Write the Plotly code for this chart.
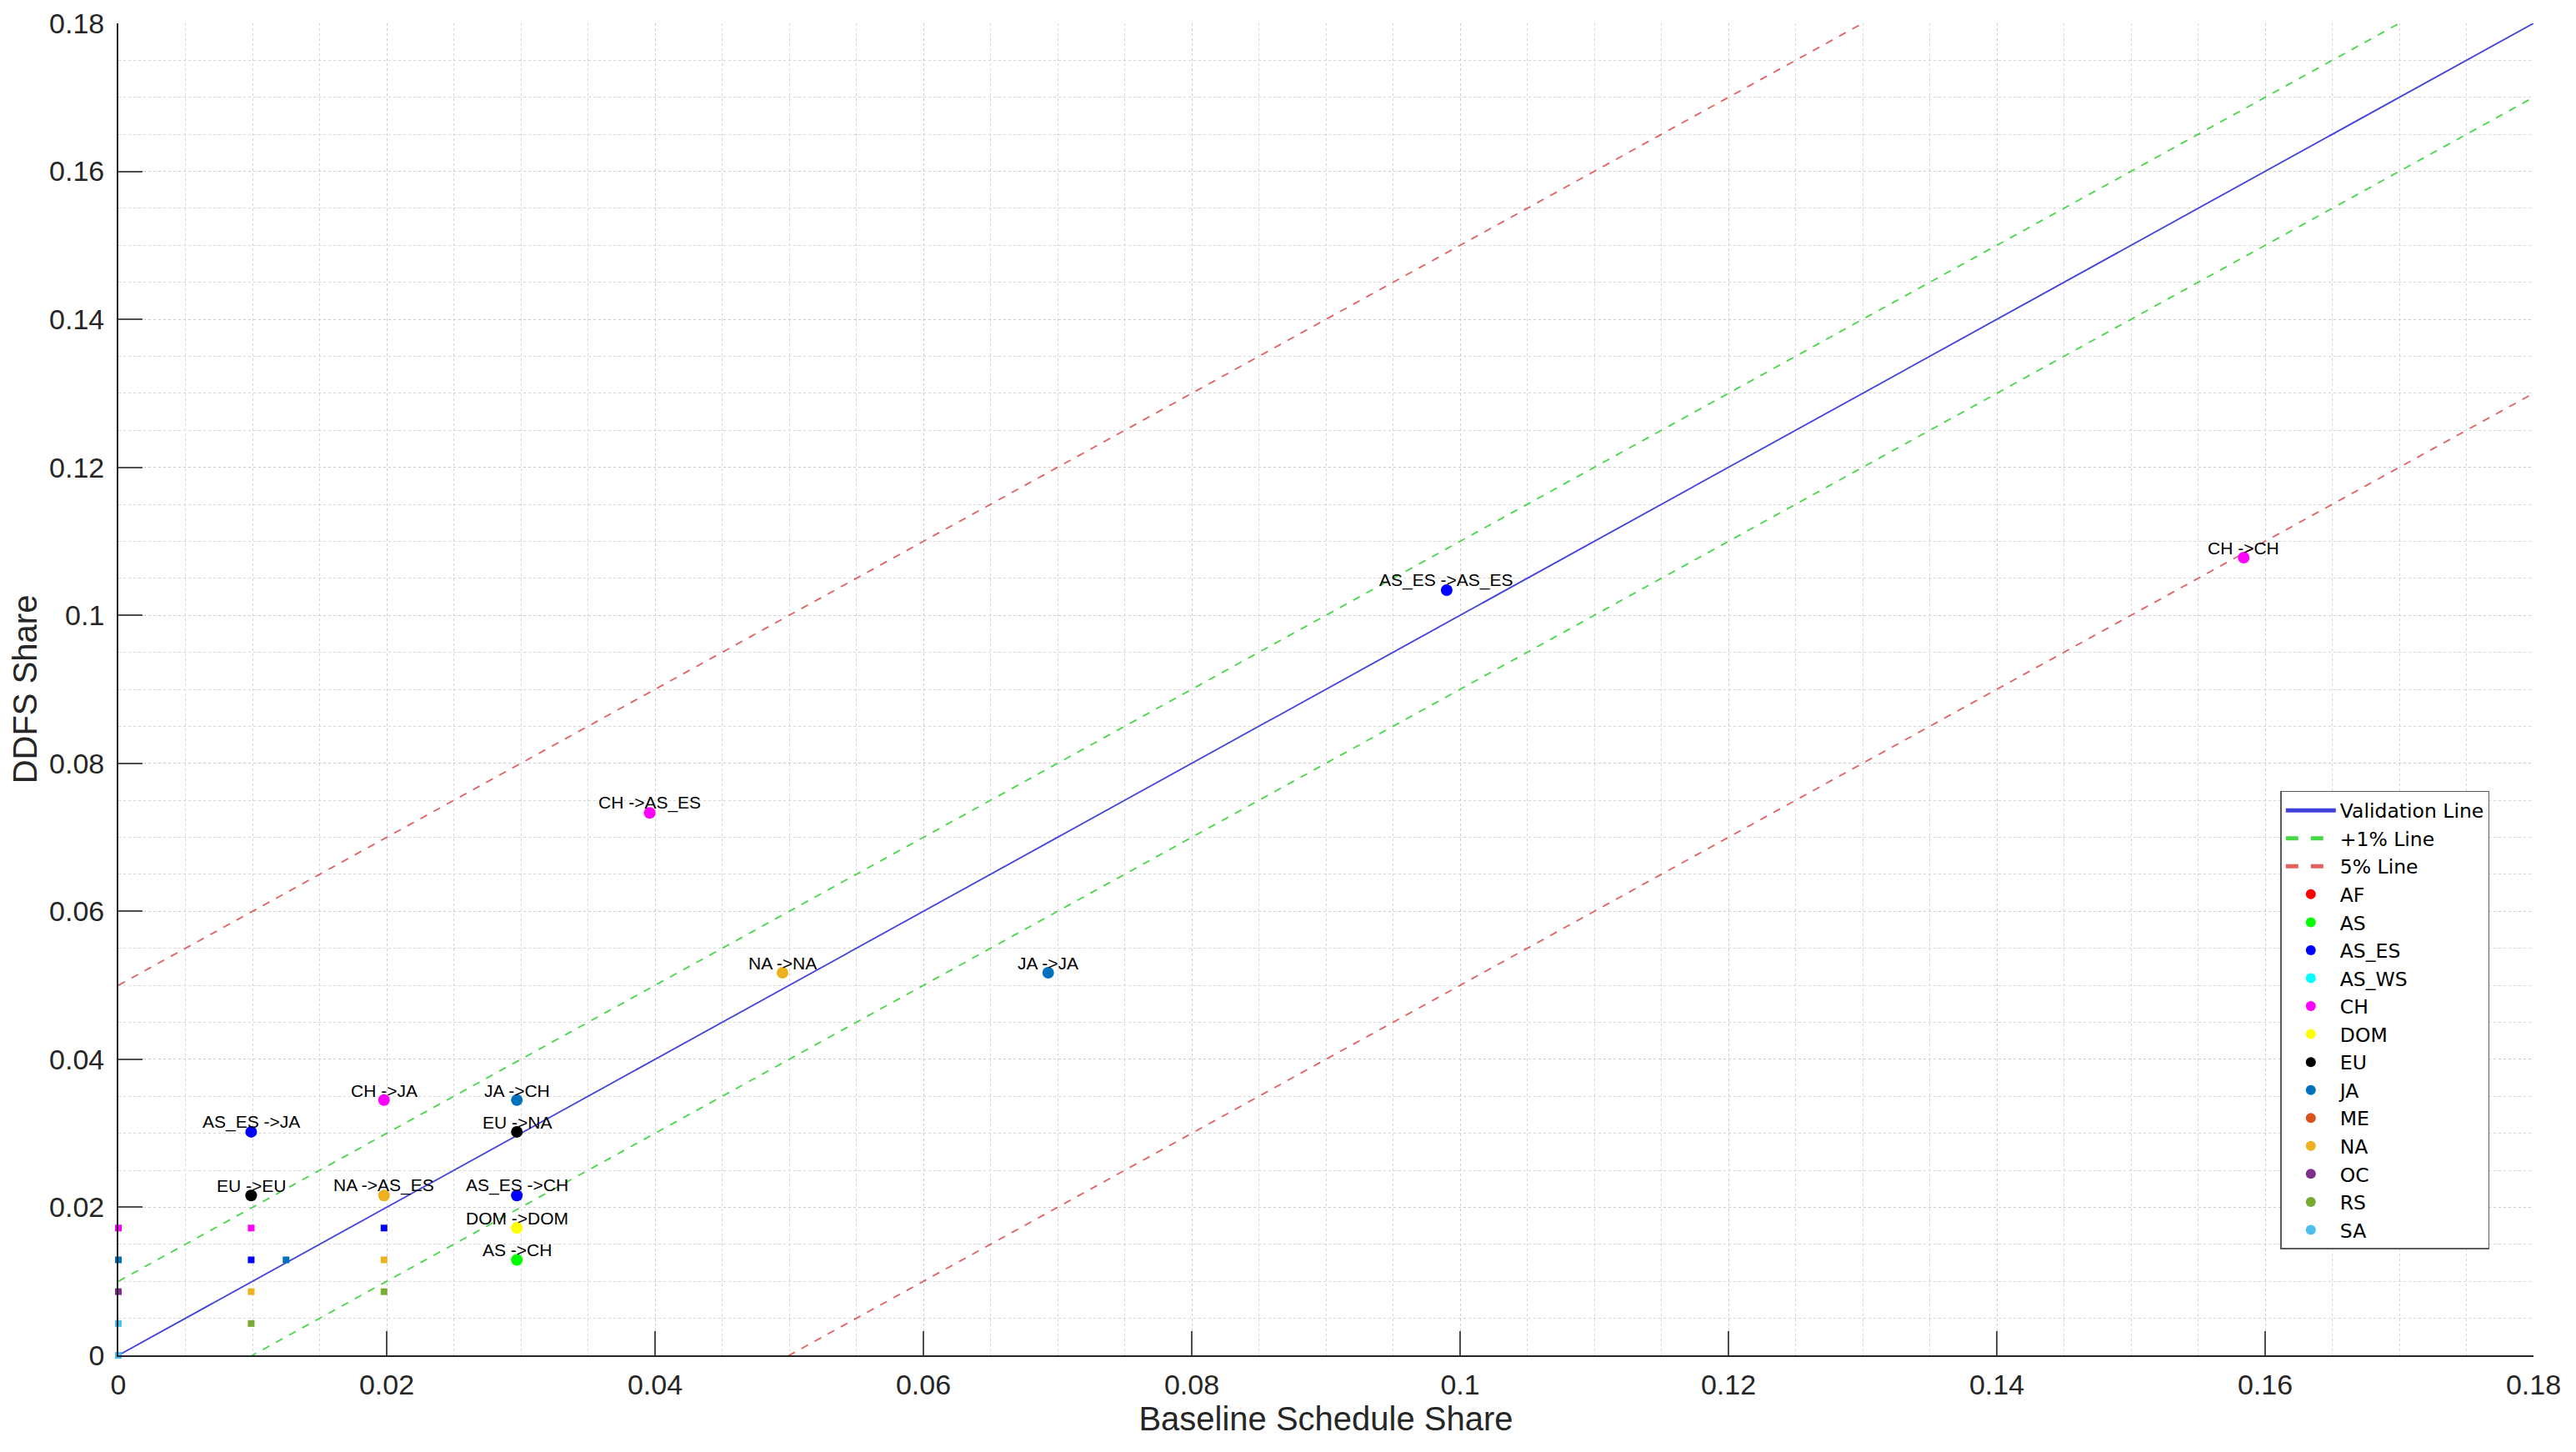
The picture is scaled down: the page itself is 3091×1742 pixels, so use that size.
import plotly.graph_objs as go

# regions and their marker colours (legend order)
regions = ['AF', 'AS', 'AS_ES', 'AS_WS', 'CH', 'DOM', 'EU', 'JA', 'ME', 'NA', 'OC', 'RS', 'SA']
region_colors = ['#FF0000', '#00FF00', '#0000FF', '#00FFFF', '#FF00FF', '#FFFF00', '#000000',
                 '#0072BD', '#D95319', '#EDB120', '#7E2F8E', '#77AC30', '#4DBEEE']

# labelled origin -> destination pairs
pair_origin = ['CH', 'AS_ES', 'CH', 'NA', 'JA', 'CH', 'JA', 'AS_ES', 'EU', 'EU', 'NA', 'AS_ES', 'DOM', 'AS']
pair_dest = ['CH', 'AS_ES', 'AS_ES', 'NA', 'JA', 'JA', 'CH', 'JA', 'NA', 'EU', 'AS_ES', 'CH', 'DOM', 'CH']
pair_base = [0.1584, 0.0990, 0.0396, 0.0495, 0.0693, 0.0198, 0.0297, 0.0099, 0.0297, 0.0099, 0.0198, 0.0297, 0.0297, 0.0297]
pair_ddfs = [0.1078, 0.1034, 0.0733, 0.0517, 0.0517, 0.0345, 0.0345, 0.0302, 0.0302, 0.0216, 0.0216, 0.0216, 0.0172, 0.0129]

# small unlabelled pairs
small_region = ['CH', 'JA', 'OC', 'SA', 'SA', 'CH', 'AS_ES', 'NA', 'RS', 'JA', 'AS_ES', 'NA', 'RS']
small_base = [0, 0, 0, 0, 0, 0.0099, 0.0099, 0.0099, 0.0099, 0.0125, 0.0198, 0.0198, 0.0198]
small_ddfs = [0.0172, 0.0129, 0.0086, 0.0043, 0, 0.0172, 0.0129, 0.0086, 0.0043, 0.0129, 0.0172, 0.0129, 0.0086]

# reference lines y = x + offset
line_x = [0, 0.18]
line_names = ['Validation Line', '+1% Line', '+1% Line', '5% Line', '5% Line']
line_offsets = [0, 0.01, -0.01, 0.05, -0.05]

tick_vals = [0, 0.02, 0.04, 0.06, 0.08, 0.1, 0.12, 0.14, 0.16, 0.18]

font_family = 'Liberation Sans, Arial, sans-serif'
legend_family = 'DejaVu Sans, Liberation Sans, sans-serif'
line_styles = {'Validation Line': dict(color='rgb(65,65,222)', width=1.8, dash='solid'),
               '+1% Line': dict(color='rgb(70,215,70)', width=1.8, dash='dash'),
               '5% Line': dict(color='rgb(228,95,95)', width=1.8, dash='dash')}

fig = go.Figure()

seen = set()
for name, off in zip(line_names, line_offsets):
    fig.add_scatter(x=line_x, y=[v + off for v in line_x], mode='lines', name=name,
                    line=line_styles[name], legendgroup=name,
                    showlegend=name not in seen, hoverinfo='skip')
    seen.add(name)

for reg, col in zip(regions, region_colors):
    sx = [x for x, r in zip(small_base, small_region) if r == reg]
    sy = [y for y, r in zip(small_ddfs, small_region) if r == reg]
    if sx:
        fig.add_scatter(x=sx, y=sy, mode='markers', legendgroup=reg, showlegend=False,
                        marker=dict(symbol='square', size=8, color=col), cliponaxis=False)

for reg, col in zip(regions, region_colors):
    px = [x for x, o in zip(pair_base, pair_origin) if o == reg]
    py_ = [y for y, o in zip(pair_ddfs, pair_origin) if o == reg]
    if not px:
        px, py_ = [None], [None]
    fig.add_scatter(x=px, y=py_, mode='markers', name=reg, legendgroup=reg,
                    marker=dict(symbol='circle', size=14, color=col), cliponaxis=False)

for o, d, x, y in zip(pair_origin, pair_dest, pair_base, pair_ddfs):
    fig.add_annotation(x=x, y=y, text=o + ' ->' + d, showarrow=False,
                       xanchor='center', yanchor='bottom', yshift=-2,
                       font=dict(size=21, color='black', family=font_family))

axis_common = dict(range=[0, 0.18], tickvals=tick_vals, ticks='inside', ticklen=29,
                   tickwidth=1.5, tickcolor='#4D4D4D', showline=True, linecolor='#262626',
                   linewidth=1.8, showgrid=True, gridcolor='#CDCDCD', gridwidth=1,
                   griddash='dot', zeroline=False, mirror=False, automargin=False,
                   tickfont=dict(size=34, color='#262626', family=font_family),
                   minor=dict(dtick=0.005, showgrid=True, gridcolor='#D6D6D6',
                              gridwidth=1, griddash='dot'))

fig.update_layout(
    width=3091, height=1742,
    margin=dict(l=134, r=59, t=20, b=124),
    plot_bgcolor='white', paper_bgcolor='white',
    font=dict(family=font_family),
    showlegend=True,
    legend=dict(x=0.8952, y=0.4237, xanchor='left', yanchor='top',
                bgcolor='white', bordercolor='#5A5A5A', borderwidth=1.5,
                font=dict(size=23.5, color='black', family=legend_family),
                itemwidth=60, itemsizing='constant', tracegroupgap=0))

fig.update_xaxes(**axis_common, ticklabelstandoff=4,
                 title=dict(text='Baseline Schedule Share', standoff=8,
                            font=dict(size=40, color='#262626', family=font_family)))
fig.update_yaxes(**axis_common, ticklabelstandoff=8,
                 title=dict(text='DDFS Share', standoff=12,
                            font=dict(size=40, color='#262626', family=font_family)))

config = {"displaylogo": False, 'showLink': False}
fig.write_html("out.html", config=config)
